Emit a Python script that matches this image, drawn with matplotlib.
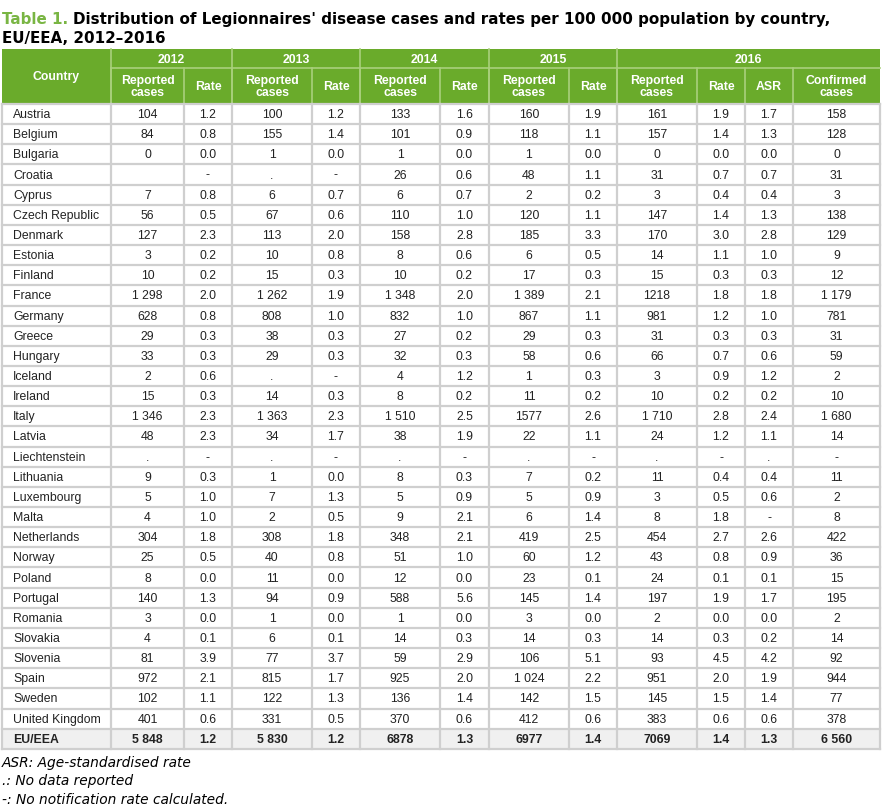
import matplotlib
matplotlib.use("Agg")
import matplotlib.pyplot as plt
from matplotlib.patches import Rectangle

# ---- data (as printed in the table) ----
countries = ["Austria", "Belgium", "Bulgaria", "Croatia", "Cyprus", "Czech Republic",
             "Denmark", "Estonia", "Finland", "France", "Germany", "Greece", "Hungary",
             "Iceland", "Ireland", "Italy", "Latvia", "Liechtenstein", "Lithuania",
             "Luxembourg", "Malta", "Netherlands", "Norway", "Poland", "Portugal",
             "Romania", "Slovakia", "Slovenia", "Spain", "Sweden", "United Kingdom"]

cases_2012 = ["104", "84", "0", "", "7", "56", "127", "3", "10", "1 298", "628", "29", "33",
              "2", "15", "1 346", "48", ".", "9", "5", "4", "304", "25", "8", "140", "3",
              "4", "81", "972", "102", "401"]
rate_2012 = ["1.2", "0.8", "0.0", "-", "0.8", "0.5", "2.3", "0.2", "0.2", "2.0", "0.8", "0.3",
             "0.3", "0.6", "0.3", "2.3", "2.3", "-", "0.3", "1.0", "1.0", "1.8", "0.5", "0.0",
             "1.3", "0.0", "0.1", "3.9", "2.1", "1.1", "0.6"]
cases_2013 = ["100", "155", "1", ".", "6", "67", "113", "10", "15", "1 262", "808", "38", "29",
              ".", "14", "1 363", "34", ".", "1", "7", "2", "308", "40", "11", "94", "1",
              "6", "77", "815", "122", "331"]
rate_2013 = ["1.2", "1.4", "0.0", "-", "0.7", "0.6", "2.0", "0.8", "0.3", "1.9", "1.0", "0.3",
             "0.3", "-", "0.3", "2.3", "1.7", "-", "0.0", "1.3", "0.5", "1.8", "0.8", "0.0",
             "0.9", "0.0", "0.1", "3.7", "1.7", "1.3", "0.5"]
cases_2014 = ["133", "101", "1", "26", "6", "110", "158", "8", "10", "1 348", "832", "27", "32",
              "4", "8", "1 510", "38", ".", "8", "5", "9", "348", "51", "12", "588", "1",
              "14", "59", "925", "136", "370"]
rate_2014 = ["1.6", "0.9", "0.0", "0.6", "0.7", "1.0", "2.8", "0.6", "0.2", "2.0", "1.0", "0.2",
             "0.3", "1.2", "0.2", "2.5", "1.9", "-", "0.3", "0.9", "2.1", "2.1", "1.0", "0.0",
             "5.6", "0.0", "0.3", "2.9", "2.0", "1.4", "0.6"]
cases_2015 = ["160", "118", "1", "48", "2", "120", "185", "6", "17", "1 389", "867", "29", "58",
              "1", "11", "1577", "22", ".", "7", "5", "6", "419", "60", "23", "145", "3",
              "14", "106", "1 024", "142", "412"]
rate_2015 = ["1.9", "1.1", "0.0", "1.1", "0.2", "1.1", "3.3", "0.5", "0.3", "2.1", "1.1", "0.3",
             "0.6", "0.3", "0.2", "2.6", "1.1", "-", "0.2", "0.9", "1.4", "2.5", "1.2", "0.1",
             "1.4", "0.0", "0.3", "5.1", "2.2", "1.5", "0.6"]
cases_2016 = ["161", "157", "0", "31", "3", "147", "170", "14", "15", "1218", "981", "31", "66",
              "3", "10", "1 710", "24", ".", "11", "3", "8", "454", "43", "24", "197", "2",
              "14", "93", "951", "145", "383"]
rate_2016 = ["1.9", "1.4", "0.0", "0.7", "0.4", "1.4", "3.0", "1.1", "0.3", "1.8", "1.2", "0.3",
             "0.7", "0.9", "0.2", "2.8", "1.2", "-", "0.4", "0.5", "1.8", "2.7", "0.8", "0.1",
             "1.9", "0.0", "0.3", "4.5", "2.0", "1.5", "0.6"]
asr_2016 = ["1.7", "1.3", "0.0", "0.7", "0.4", "1.3", "2.8", "1.0", "0.3", "1.8", "1.0", "0.3",
            "0.6", "1.2", "0.2", "2.4", "1.1", ".", "0.4", "0.6", "-", "2.6", "0.9", "0.1",
            "1.7", "0.0", "0.2", "4.2", "1.9", "1.4", "0.6"]
confirmed_2016 = ["158", "128", "0", "31", "3", "138", "129", "9", "12", "1 179", "781", "31",
                  "59", "2", "10", "1 680", "14", "-", "11", "2", "8", "422", "36", "15", "195",
                  "2", "14", "92", "944", "77", "378"]

total_label = "EU/EEA"
totals = ["5 848", "1.2", "5 830", "1.2", "6878", "1.3", "6977", "1.4", "7069", "1.4", "1.3", "6 560"]

years = ["2012", "2013", "2014", "2015", "2016"]
year_spans = [2, 2, 2, 2, 4]
sub_headers = ["Reported\ncases", "Rate", "Reported\ncases", "Rate", "Reported\ncases", "Rate",
               "Reported\ncases", "Rate", "Reported\ncases", "Rate", "ASR", "Confirmed\ncases"]

footnotes = ["ASR: Age-standardised rate", ".: No data reported", "-: No notification rate calculated."]

columns = [cases_2012, rate_2012, cases_2013, rate_2013, cases_2014, rate_2014,
           cases_2015, rate_2015, cases_2016, rate_2016, asr_2016, confirmed_2016]

# ---- layout (pixels) ----
W, H = 885, 809
col_edges = [2, 111, 184, 232, 312, 360, 440, 489, 569, 617, 697, 745, 793, 880]
y_head0, y_head1, y_body = 49, 68, 104
row_h = 20.15

green = "#6aab2b"
grid = "#cfcfcf"
hdr_line = "#a9d07c"

fig = plt.figure(figsize=(W / 100, H / 100), dpi=100)
ax = fig.add_axes([0, 0, 1, 1])
ax.set_xlim(0, W)
ax.set_ylim(H, 0)
ax.axis("off")

cell_font = dict(family="Liberation Sans", fontsize=8.8, color="#222222")
hdr_font = dict(family="Liberation Sans", fontsize=8.8, color="white", fontweight="bold")

# title: first line is fitted so that it ends near x=838 like the original
title_fs = 12.3
t1 = ax.text(2, 19, "Table 1.", fontsize=title_fs, fontweight="bold", color="#79b543",
             family="DejaVu Sans", va="center", ha="left")
t2 = ax.text(0, 19, "Distribution of Legionnaires' disease cases and rates per 100 000 population by country,",
             fontsize=title_fs, fontweight="bold", color="black", family="DejaVu Sans",
             va="center", ha="left")
fig.canvas.draw()
r = fig.canvas.get_renderer()
total_w = t1.get_window_extent(r).width + 5 + t2.get_window_extent(r).width
title_fs = title_fs * (838 - 2) / total_w
t1.set_fontsize(title_fs)
t2.set_fontsize(title_fs)
fig.canvas.draw()
t2.set_x(t1.get_window_extent(r).x1 + 5)
ax.text(2, 38, "EU/EEA, 2012\u20132016", fontsize=title_fs, fontweight="bold", color="black",
        family="DejaVu Sans", va="center", ha="left")

# header background
ax.add_patch(Rectangle((col_edges[0], y_head0), col_edges[-1] - col_edges[0], y_body - y_head0,
                       facecolor=green, edgecolor="none", zorder=1))
ax.text((col_edges[0] + col_edges[1]) / 2, (y_head0 + y_body) / 2, "Country", ha="center",
        va="center", **hdr_font)

ci = 1
for yr, span in zip(years, year_spans):
    x0, x1 = col_edges[ci], col_edges[ci + span]
    ax.text((x0 + x1) / 2, (y_head0 + y_head1) / 2 + 1, yr, ha="center", va="center", **hdr_font)
    ax.plot([x0, x0], [y_head0, y_body], color=hdr_line, lw=1.2, zorder=2)
    ci += span
ax.plot([col_edges[1], col_edges[-1]], [y_head1, y_head1], color=hdr_line, lw=1.2, zorder=2)
for j, sh in enumerate(sub_headers):
    x0, x1 = col_edges[j + 1], col_edges[j + 2]
    ax.plot([x0, x0], [y_head1, y_body], color=hdr_line, lw=1.2, zorder=2)
    ax.text((x0 + x1) / 2, (y_head1 + y_body) / 2 + 1, sh, ha="center", va="center",
            linespacing=1.0, **hdr_font)

# body
n = len(countries)
y_end = y_body + (n + 1) * row_h
ax.add_patch(Rectangle((col_edges[0], y_body + n * row_h), col_edges[-1] - col_edges[0], row_h,
                       facecolor="#f0f0f0", edgecolor="none", zorder=0))
for i in range(n + 1):
    yc = y_body + (i + 0.5) * row_h
    bold = "bold" if i == n else "normal"
    name = countries[i] if i < n else total_label
    ax.text(col_edges[0] + 11, yc + 1, name, ha="left", va="center", fontweight=bold, **cell_font)
    for j in range(len(columns)):
        val = columns[j][i] if i < n else totals[j]
        ax.text((col_edges[j + 1] + col_edges[j + 2]) / 2, yc + 1, val, ha="center", va="center",
                fontweight=bold, **cell_font)

for i in range(n + 2):
    yy = y_body + i * row_h
    ax.plot([col_edges[0], col_edges[-1]], [yy, yy], color=grid, lw=1.6, zorder=2)
for x in col_edges:
    ax.plot([x, x], [y_body, y_end], color=grid, lw=1.6, zorder=2)

# footnotes
for k, fn in enumerate(footnotes):
    ax.text(2, 763 + k * 18.5, fn, ha="left", va="center", fontstyle="italic",
            family="DejaVu Sans", fontsize=9.9, color="black")

fig.savefig("out.png", dpi=100)
